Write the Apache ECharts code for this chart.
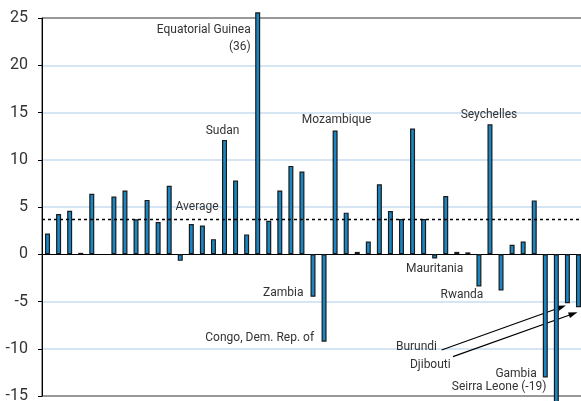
<!DOCTYPE html>
<html>
<head>
<meta charset="utf-8">
<script src="https://cdn.jsdelivr.net/npm/echarts@6/dist/echarts.min.js"></script>
<style>
html,body{margin:0;padding:0;background:#fff;}
#main{width:581px;height:401px;}
</style>
</head>
<body>
<div id="main"></div>
<script>
// ---- data ----
const countries = [
  'C01','C02','C03','C04','C05','C06','C07','C08','C09','C10',
  'C11','C12','C13','C14','C15','C16','Sudan','C18','C19','Equatorial Guinea',
  'C21','C22','C23','C24','Zambia','Congo, Dem. Rep. of','Mozambique','C28','C29','C30',
  'C31','C32','C33','C34','C35','Mauritania','C37','C38','C39','Rwanda',
  'Seychelles','C42','C43','C44','C45','Gambia','Seirra Leone','Burundi','Djibouti'
];
const values = [
  2.2, 4.25, 4.6, 0.15, 6.4, null, 6.1, 6.75, 3.7, 5.75,
  3.4, 7.25, -0.7, 3.2, 3.05, 1.6, 12.1, 7.8, 2.1, 25.6,
  3.55, 6.75, 9.35, 8.75, -4.5, -9.25, 13.1, 4.4, 0.25, 1.35,
  7.4, 4.57, 3.72, 13.3, 3.72, -0.45, 6.17, 0.25, 0.2, -3.4,
  13.75, -3.83, 1.0, 1.35, 5.7, -13.05, -16, -5.18, -5.6
];
const average = 3.72;
const yTicks = [-15, -10, -5, 0, 5, 10, 15, 20, 25];

// annotation texts anchored to (category index, value) plus a small pixel offset
const annotations = [
  {text: 'Equatorial Guinea', k: 19, v: 23.73, dx: -7, dy: 0, align: 'right'},
  {text: '(36)', k: 19, v: 21.93, dx: -7, dy: 0, align: 'right'},
  {text: 'Sudan', k: 16, v: 12.1, dx: -2, dy: -9, align: 'center'},
  {text: 'Mozambique', k: 26, v: 13.1, dx: 1.5, dy: -10.5, align: 'center'},
  {text: 'Seychelles', k: 40, v: 13.75, dx: -1, dy: -9.5, align: 'center'},
  {text: 'Zambia', k: 24, v: -4.5, dx: -9.5, dy: -3.5, align: 'right'},
  {text: 'Congo, Dem. Rep. of', k: 25, v: -9.25, dx: -10, dy: -3.5, align: 'right'},
  {text: 'Mauritania', k: 35, v: -0.45, dx: 0, dy: 10, align: 'center'},
  {text: 'Rwanda', k: 39, v: -3.4, dx: -17, dy: 8.5, align: 'center'},
  {text: 'Gambia', k: 45, v: -13.05, dx: -8.5, dy: -3.7, align: 'right'},
  {text: 'Seirra Leone (-19)', k: 46, v: -14.05, dx: -10, dy: 0, align: 'right'},
  {text: 'Burundi', k: 47, v: -9.78, dx: -171.5, dy: 0, align: 'left'},
  {text: 'Djibouti', k: 48, v: -11.67, dx: -168.5, dy: 0, align: 'left'},
  {text: 'Average', k: 12, v: average, dx: -4.7, dy: -12, align: 'left'}
];
// arrows: from label (category, value, pixel offset) to bar end (category, value, pixel offset)
const arrows = [
  {from: {k: 47, v: -10.13, dx: -125.8}, to: {k: 47, v: -5.18, dx: -1.5, dy: 2.3}},
  {from: {k: 48, v: -10.84, dx: -125.5}, to: {k: 48, v: -5.6, dx: -1, dy: 5}}
];

const option = {
  animation: false,
  grid: {left: 42, right: -3, top: 18, bottom: 5, outerBoundsMode: 'none', containLabel: false,
         show: true, borderColor: '#333', borderWidth: 1, backgroundColor: 'transparent'},
  xAxis: {
    type: 'category',
    data: countries,
    axisLine: {show: true, onZero: true, lineStyle: {color: '#000', width: 1}},
    axisTick: {show: false},
    axisLabel: {show: false},
    splitLine: {show: false}
  },
  yAxis: {
    type: 'value',
    min: yTicks[0], max: yTicks[yTicks.length - 1], interval: 5,
    axisLine: {show: true, lineStyle: {color: '#000', width: 1}},
    axisTick: {show: true, length: 4, lineStyle: {color: '#000'}},
    axisLabel: {margin: 14, fontSize: 16, color: '#333', fontFamily: 'Roboto'},
    splitLine: {show: true, lineStyle: {color: yTicks.map(t => (t === 0 || t === yTicks[0] || t === yTicks[yTicks.length-1]) ? 'rgba(0,0,0,0)' : '#c9ddef'), width: 1.5}}
  },
  series: [{
    type: 'bar',
    data: values,
    barWidth: 5,
    clip: false,
    itemStyle: {color: '#1a87c5', borderColor: '#1a1a1a', borderWidth: 1.2},
    markLine: {
      silent: true,
      symbol: 'none',
      label: {show: false},
      lineStyle: {color: '#000', type: [3, 3], width: 1.3},
      data: [{yAxis: average}]
    }
  }]
};

const chart = echarts.init(document.getElementById('main'), null, {renderer: 'canvas'});
chart.setOption(option);

function px(k, v) { return chart.convertToPixel({gridIndex: 0}, [k, v]); }
const graphics = [];
annotations.forEach(a => {
  const p = px(a.k, a.v);
  graphics.push({
    type: 'text', x: p[0] + a.dx, y: p[1] + a.dy, silent: true,
    style: {text: a.text, align: a.align, verticalAlign: 'middle', font: '12px Roboto', fill: '#333'}
  });
});
arrows.forEach(a => {
  const s = px(a.from.k, a.from.v), e = px(a.to.k, a.to.v);
  const x1 = s[0] + (a.from.dx || 0), y1 = s[1] + (a.from.dy || 0);
  const x2 = e[0] + (a.to.dx || 0), y2 = e[1] + (a.to.dy || 0);
  const ang = Math.atan2(y2 - y1, x2 - x1);
  const L = 9, W = 3;
  const bx = x2 - L * Math.cos(ang), by = y2 - L * Math.sin(ang);
  graphics.push({type: 'line', silent: true, shape: {x1: x1, y1: y1, x2: bx, y2: by}, style: {stroke: '#000', lineWidth: 1.2}});
  graphics.push({type: 'polygon', silent: true, shape: {points: [
    [x2, y2],
    [bx + W * Math.sin(ang), by - W * Math.cos(ang)],
    [bx - W * Math.sin(ang), by + W * Math.cos(ang)]
  ]}, style: {fill: '#000'}});
});
chart.setOption({graphic: graphics});
</script>
</body>
</html>
